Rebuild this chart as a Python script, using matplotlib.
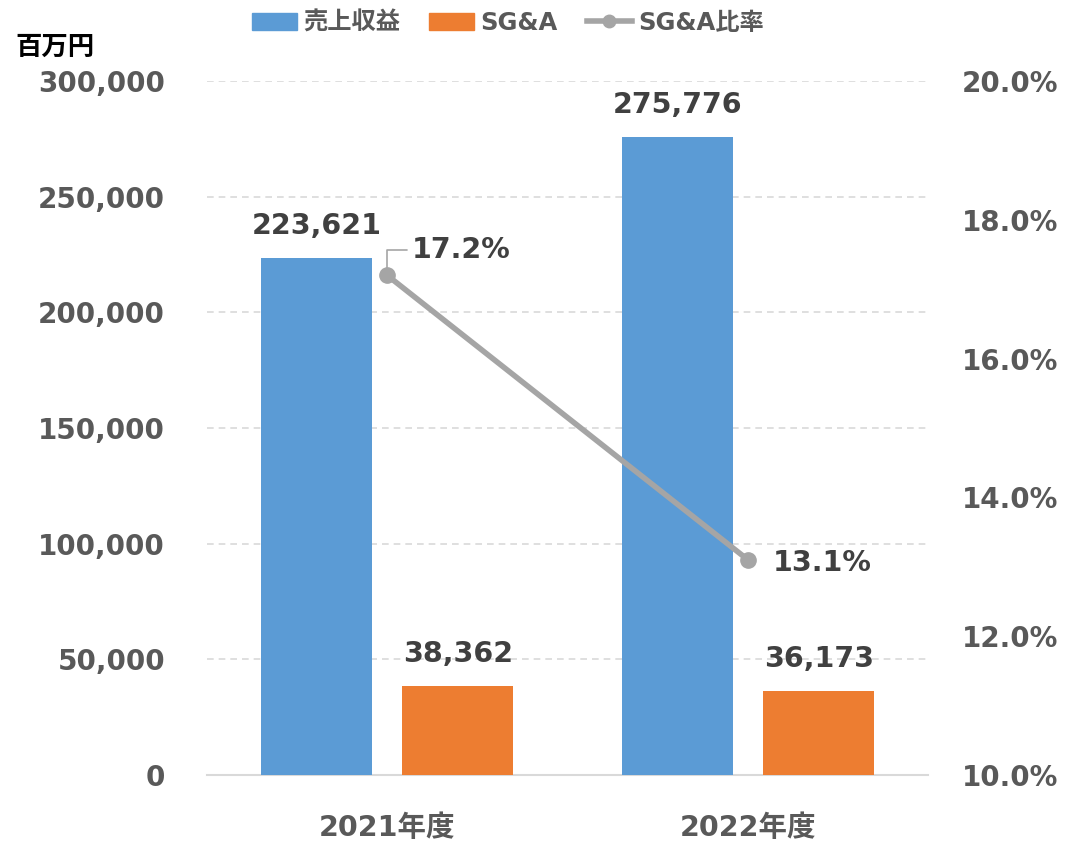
import matplotlib
matplotlib.use("Agg")
import matplotlib.pyplot as plt
from matplotlib.ticker import FuncFormatter, MultipleLocator
from matplotlib.lines import Line2D
from matplotlib.patches import Patch
import numpy as np

plt.rcParams['font.family'] = ['DejaVu Sans', 'Noto Sans CJK JP']
plt.rcParams['font.weight'] = 'bold'

categories = ['2021年度', '2022年度']
revenue = [223621, 275776]
sga = [38362, 36173]
ratio = [17.2, 13.1]

blue = '#5b9bd5'
orange = '#ed7d31'
gray = '#a5a5a5'
tick_col = '#595959'
lab_col = '#404040'

fig = plt.figure(figsize=(10.77, 8.44), dpi=100)
ax = fig.add_axes([0.192, 0.0818, 0.670, 0.8222])
ax2 = ax.twinx()

x = np.arange(len(categories))
w = 0.308
off = 0.196
ax.bar(x - off, revenue, w, color=blue, zorder=3)
ax.bar(x + off, sga, w, color=orange, zorder=3)

ax.set_xlim(-0.5, 1.5)
ax.set_ylim(0, 300000)
ax.yaxis.set_major_locator(MultipleLocator(50000))
ax.yaxis.set_major_formatter(FuncFormatter(lambda v, p: f'{int(v):,}'))
ax.grid(axis='y', color='#d9d9d9', linestyle=(0, (4, 3)), linewidth=1.2, zorder=0)
ax.set_axisbelow(True)
for s in ['top', 'left', 'right']:
    ax.spines[s].set_visible(False)
    ax2.spines[s].set_visible(False)
ax.spines['bottom'].set_color('#d9d9d9')
ax.spines['bottom'].set_linewidth(1.5)
ax2.spines['bottom'].set_visible(False)
ax.tick_params(axis='y', length=0, labelsize=20, labelcolor=tick_col, pad=30)
ax.tick_params(axis='x', length=0, labelsize=20.5, labelcolor=tick_col, pad=28)
ax.set_xticks(x)
ax.set_xticklabels(categories, fontweight='bold')
for t in ax.get_yticklabels():
    t.set_fontweight('bold')

ax2.plot(x, ratio, color=gray, linewidth=4, marker='o', markersize=11, zorder=4)
ax2.set_ylim(10, 20)
ax2.yaxis.set_major_locator(MultipleLocator(2))
ax2.yaxis.set_major_formatter(FuncFormatter(lambda v, p: f'{v:.1f}%'))
ax2.tick_params(axis='y', length=0, labelsize=20, labelcolor=tick_col, pad=24)
for t in ax2.get_yticklabels():
    t.set_fontweight('bold')

# data labels
for i in range(len(categories)):
    ax.annotate(f'{revenue[i]:,}', (x[i] - off, revenue[i]), xytext=(0, 13),
                textcoords='offset points', ha='center', va='bottom',
                fontsize=20.5, fontweight='bold', color=lab_col)
    ax.annotate(f'{sga[i]:,}', (x[i] + off, sga[i]), xytext=(0, 13),
                textcoords='offset points', ha='center', va='bottom',
                fontsize=20.5, fontweight='bold', color=lab_col)

# ratio labels
ax2.annotate(f'{ratio[0]:.1f}%', (x[0], ratio[0]), xytext=(18, 18),
             textcoords='offset points', ha='left', va='center',
             fontsize=20.5, fontweight='bold', color=lab_col,
             arrowprops=dict(arrowstyle='-', color=gray, lw=1.2,
                             connectionstyle='angle,angleA=0,angleB=90,rad=0',
                             shrinkA=2, shrinkB=5))
ax2.annotate(f'{ratio[1]:.1f}%', (x[1], ratio[1]), xytext=(18, -2),
             textcoords='offset points', ha='left', va='center',
             fontsize=20.5, fontweight='bold', color=lab_col)

# unit label
fig.text(15 / 1077, 1 - 48 / 844, '百万円', fontsize=19, fontweight='bold',
         color='black', ha='left', va='center')

handles = [Patch(color=blue), Patch(color=orange),
           Line2D([0], [0], color=gray, lw=4, marker='o', markersize=9)]
labels = ['売上収益', 'SG&A', 'SG&A比率']
fig.legend(handles, labels, loc='center', bbox_to_anchor=(508 / 1077, 1 - 23 / 844),
           ncol=3, frameon=False, labelcolor=tick_col,
           handlelength=1.85, handleheight=0.7, columnspacing=1.2, handletextpad=0.25,
           prop={'weight': 'bold', 'size': 17.5})

fig.savefig('out.png', dpi=100)
